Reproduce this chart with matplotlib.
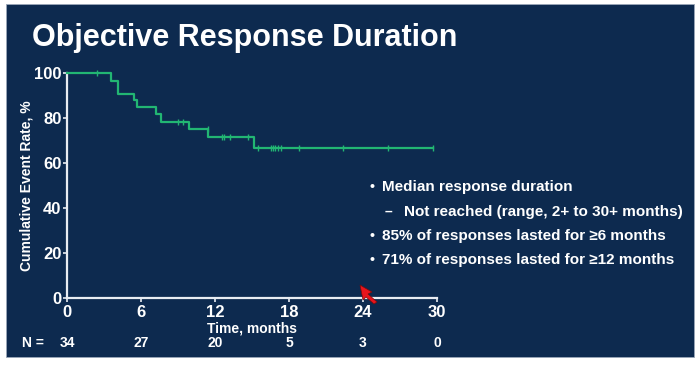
import numpy as np
import matplotlib
matplotlib.use('Agg')
import matplotlib.pyplot as plt
from matplotlib.patches import Rectangle, Polygon
import matplotlib.transforms as mtransforms

# Kaplan-Meier style step curve (months, %)
step_times = [0, 3.6, 4.15, 5.4, 5.7, 7.2, 7.6, 9.9, 11.45, 15.15, 29.65]
step_values = [100, 96.7, 90.9, 88.1, 84.8, 81.9, 78.4, 75.0, 71.5, 66.7, 66.7]

# censored observations
censor_times = [2.4, 9.0, 9.4, 11.4, 12.55, 12.7, 13.2, 14.7, 15.5,
                16.5, 16.7, 16.9, 17.1, 17.35, 18.85, 22.4, 26.05, 29.65]
censor_values = [100, 78.4, 78.4, 75.0, 71.5, 71.5, 71.5, 71.5, 66.7,
                 66.7, 66.7, 66.7, 66.7, 66.7, 66.7, 66.7, 66.7, 66.7]

x_ticks = [0, 6, 12, 18, 24, 30]
y_ticks = [0, 20, 40, 60, 80, 100]
n_at_risk = [34, 27, 20, 5, 3, 0]

bullets = [
    ('\u2022', 'Median response duration'),
    ('\u2013', 'Not reached (range, 2+ to 30+ months)'),
    ('\u2022', '85% of responses lasted for \u22656 months'),
    ('\u2022', '71% of responses lasted for \u226512 months'),
]

navy = '#0d2a4f'
green = '#22b673'
white = 'white'

plt.rcParams['font.family'] = ['Liberation Sans', 'DejaVu Sans']
plt.rcParams['font.weight'] = 'bold'

W, H = 700, 366
fig = plt.figure(figsize=(7.0, 3.66), dpi=100, facecolor='white')

# slide panel
fig.patches.append(Rectangle((6 / W, 9 / H), 688 / W, 353 / H,
                             transform=fig.transFigure, facecolor=navy,
                             edgecolor='#9aa6b8', linewidth=0.6, zorder=-5))

fig.text(32 / W, 1 - 38 / H, 'Objective Response Duration', color=white,
         fontsize=22, fontweight='bold', va='center', ha='left')

ax = fig.add_axes([67 / W, 1 - 297.7 / H, 370 / W, 224.4 / H])
ax.set_facecolor('none')
ax.set_zorder(2)
ax.set_xlim(0, 30)
ax.set_ylim(0, 100)

ax.plot(step_times, step_values, drawstyle='steps-post', color=green,
        linewidth=1.6, clip_on=False, zorder=3)
ax.plot(censor_times, censor_values, linestyle='none', marker='|',
        markersize=4, markeredgewidth=1.0, color=green, clip_on=False, zorder=3)

for side in ['top', 'right']:
    ax.spines[side].set_visible(False)
for side in ['left', 'bottom']:
    ax.spines[side].set_color('#e8ecf2')
    ax.spines[side].set_linewidth(1.6)

ax.set_xticks(x_ticks)
ax.set_yticks(y_ticks)
ax.tick_params(axis='both', colors='#e8ecf2', labelcolor=white,
               labelsize=12, length=3, width=1.2)
ax.tick_params(axis='x', pad=2.5)
ax.tick_params(axis='y', pad=1)
for lab in ax.get_xticklabels() + ax.get_yticklabels():
    lab.set_fontweight('bold')

ax.set_xlabel('Time, months', color=white, fontsize=10, fontweight='bold',
              labelpad=1)
ax.set_ylabel('Cumulative Event Rate, %', color=white, fontsize=10,
              fontweight='bold', labelpad=0)

# number at risk row
trans = mtransforms.blended_transform_factory(ax.transData, fig.transFigure)
fig.text(22 / W, 1 - 343 / H, 'N =', color=white, fontsize=10,
         fontweight='bold', ha='left', va='center')
for t, n in zip(x_ticks, n_at_risk):
    ax.text(t, 1 - 343 / H, str(n), transform=trans, color=white,
            fontsize=10, fontweight='bold', ha='center', va='center',
            clip_on=False)

# bullet notes
line_y = [187, 212, 236, 260]
for (sym, txt), yy in zip(bullets, line_y):
    if sym == '\u2022':
        fig.text(372 / W, 1 - yy / H, sym, color=white, fontsize=10,
                 ha='center', va='center')
        fig.text(382 / W, 1 - yy / H, txt, color=white, fontsize=11,
                 fontweight='bold', ha='left', va='center')
    else:
        fig.text(388 / W, 1 - yy / H, sym, color=white, fontsize=10,
                 ha='center', va='center')
        fig.text(404 / W, 1 - yy / H, txt, color=white, fontsize=11,
                 fontweight='bold', ha='left', va='center')

# red mouse pointer seen on the slide
ptr = np.array([[360, 285], [372, 292], [368, 294], [377, 302],
                [374, 304], [366, 297], [363, 300]], dtype=float)
ptr[:, 0] /= W
ptr[:, 1] = 1 - ptr[:, 1] / H
fig.patches.append(Polygon(ptr, closed=True, transform=fig.transFigure,
                           facecolor='#e8141c', edgecolor='#7a0a0a',
                           linewidth=0.5, zorder=5))

fig.savefig('out.png', dpi=100, facecolor='white')
